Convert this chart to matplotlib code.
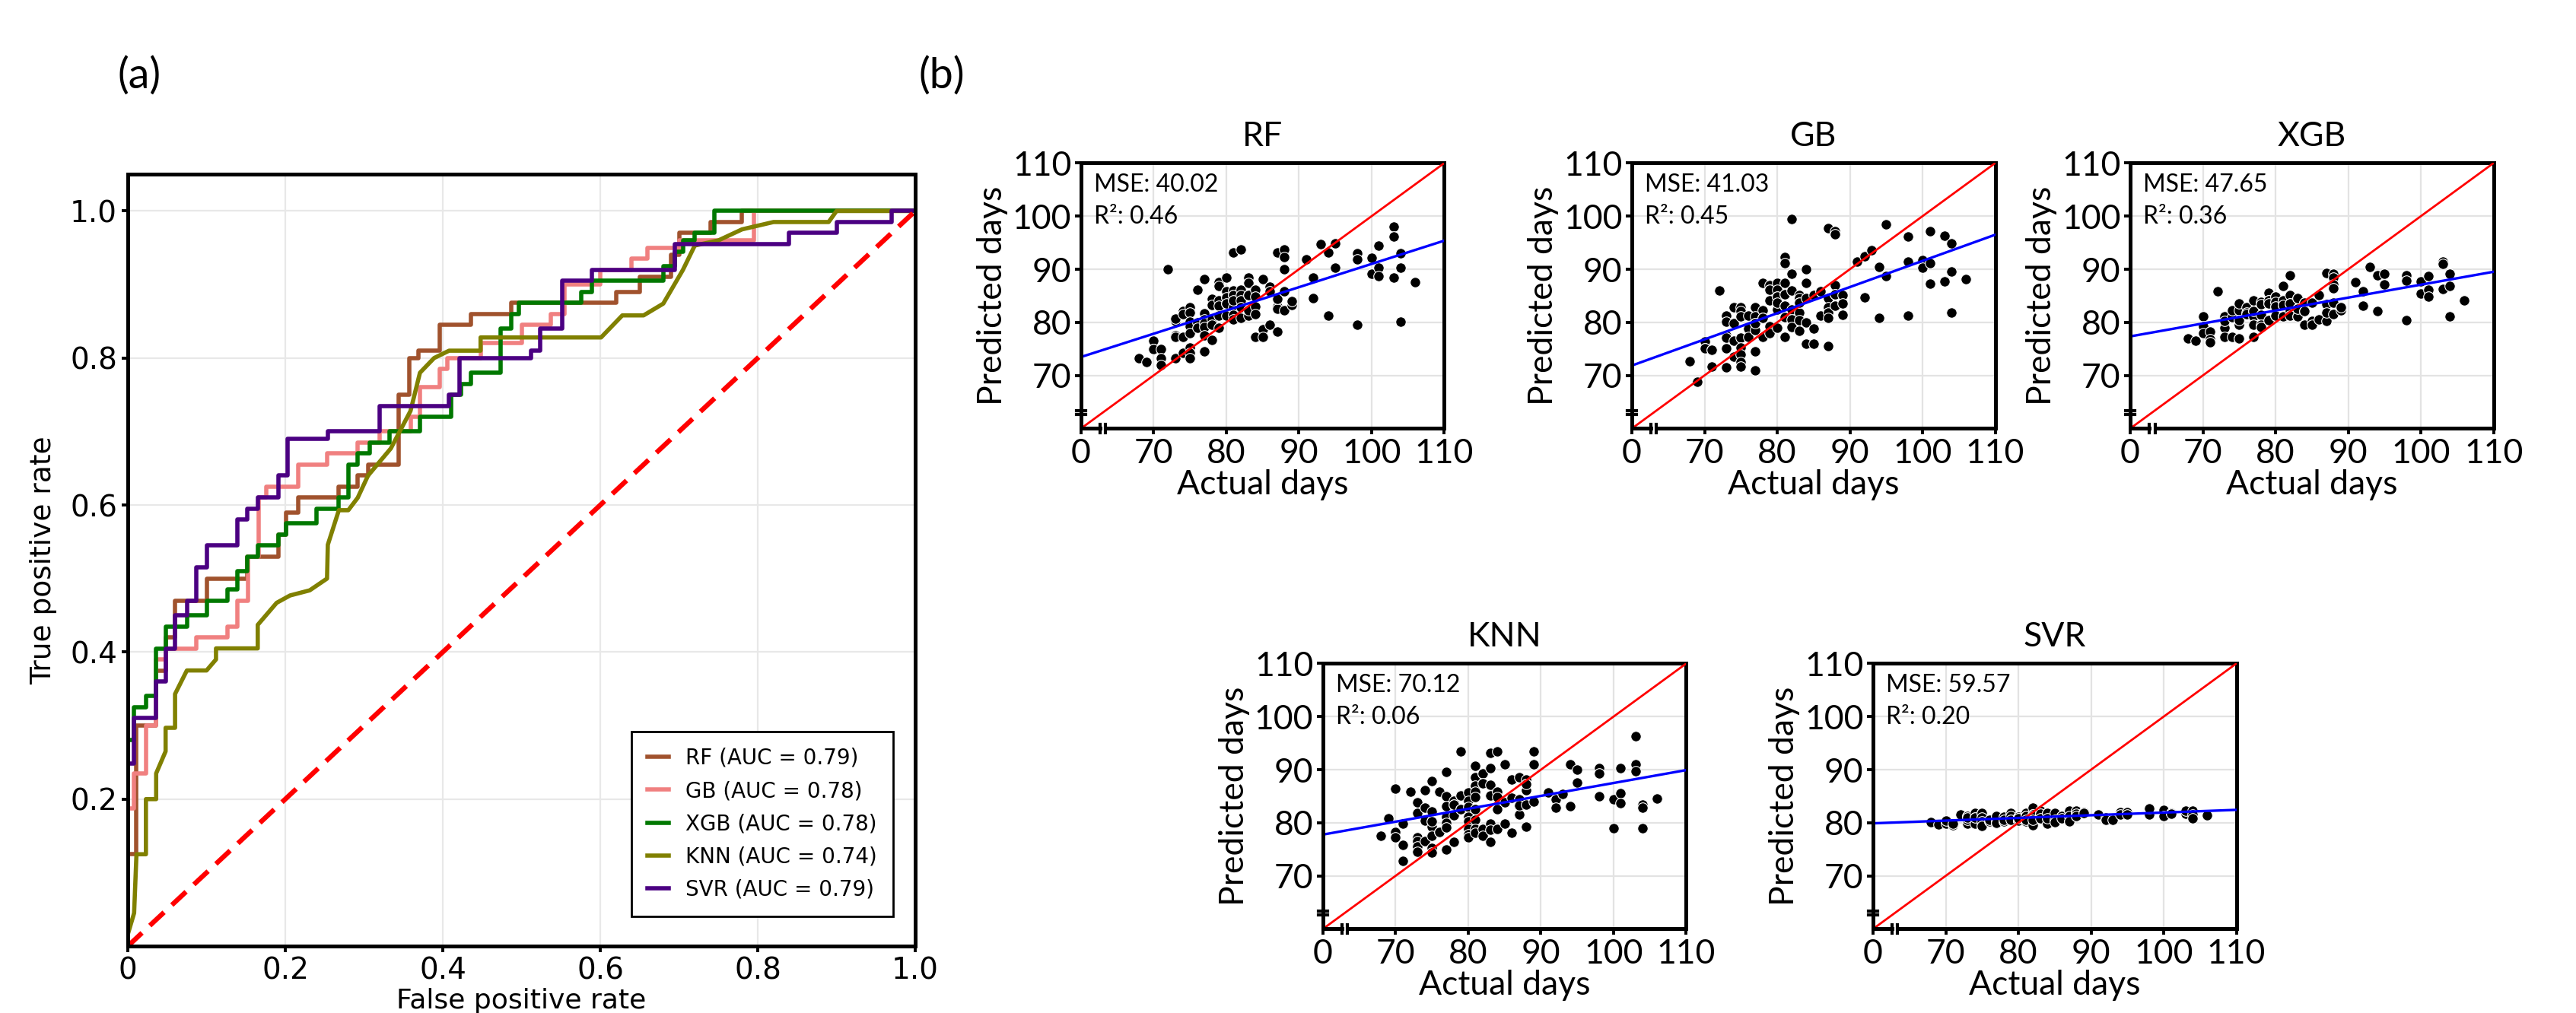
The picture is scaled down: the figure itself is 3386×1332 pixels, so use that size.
import numpy as np
import matplotlib
matplotlib.use('Agg')
import matplotlib.pyplot as plt

# ---------- (a) ROC curves ----------
roc_names = ['RF', 'GB', 'XGB', 'KNN', 'SVR']
roc_auc = [0.79, 0.78, 0.78, 0.74, 0.79]
roc_colors = ['#a0522d', '#f08080', '#007800', '#808000', '#4b0082']

rf_fpr = [0, 0, 0.011, 0.036, 0.048, 0.06, 0.10, 0.152, 0.166, 0.191, 0.201, 0.216, 0.268, 0.292,
          0.305, 0.344, 0.357, 0.369, 0.396, 0.436, 0.487, 0.62, 0.65, 0.69, 0.70, 0.74, 0.78, 1.0]
rf_tpr = [0, 0.125, 0.30, 0.375, 0.42, 0.47, 0.50, 0.53, 0.53, 0.56, 0.59, 0.61, 0.625, 0.64,
          0.655, 0.75, 0.80, 0.81, 0.845, 0.86, 0.875, 0.89, 0.91, 0.94, 0.97, 0.985, 1.0, 1.0]

gb_fpr = [0, 0, 0.008, 0.023, 0.036, 0.048, 0.087, 0.127, 0.139, 0.153, 0.166, 0.176, 0.201, 0.216,
          0.253, 0.292, 0.32, 0.359, 0.371, 0.396, 0.406, 0.448, 0.50, 0.537, 0.555, 0.60, 0.64,
          0.66, 0.70, 0.795, 1.0]
gb_tpr = [0, 0.187, 0.235, 0.30, 0.39, 0.405, 0.42, 0.435, 0.47, 0.53, 0.61, 0.625, 0.625, 0.655,
          0.67, 0.685, 0.70, 0.72, 0.76, 0.785, 0.80, 0.82, 0.845, 0.86, 0.90, 0.92, 0.935,
          0.95, 0.96, 1.0, 1.0]

xgb_fpr = [0, 0, 0.008, 0.023, 0.036, 0.048, 0.075, 0.10, 0.127, 0.139, 0.152, 0.165, 0.191, 0.201,
           0.24, 0.268, 0.28, 0.292, 0.307, 0.332, 0.371, 0.411, 0.423, 0.436, 0.473, 0.487, 0.497,
           0.576, 0.589, 0.68, 0.695, 0.705, 0.72, 0.745, 1.0]
xgb_tpr = [0, 0.28, 0.325, 0.34, 0.405, 0.435, 0.45, 0.47, 0.485, 0.51, 0.53, 0.545, 0.56, 0.575,
           0.595, 0.61, 0.655, 0.67, 0.685, 0.70, 0.72, 0.75, 0.765, 0.78, 0.84, 0.86, 0.875,
           0.89, 0.905, 0.925, 0.945, 0.96, 0.97, 1.0, 1.0]

knn_fpr = [0, 0.008, 0.011, 0.023, 0.023, 0.036, 0.036, 0.048, 0.048, 0.06, 0.06, 0.075, 0.10, 0.112,
           0.112, 0.165, 0.165, 0.189, 0.206, 0.231, 0.253, 0.254, 0.268, 0.28, 0.292, 0.305, 0.334,
           0.359, 0.371, 0.389, 0.408, 0.448, 0.448, 0.601, 0.628, 0.655, 0.68, 0.705, 0.72, 0.75,
           0.78, 0.82, 0.89, 0.90, 1.0]
knn_tpr = [0.016, 0.045, 0.125, 0.125, 0.20, 0.20, 0.235, 0.265, 0.297, 0.297, 0.343, 0.375, 0.375, 0.39,
           0.405, 0.405, 0.437, 0.467, 0.477, 0.484, 0.50, 0.546, 0.593, 0.593, 0.61, 0.64, 0.677,
           0.728, 0.78, 0.80, 0.81, 0.81, 0.828, 0.828, 0.858, 0.858, 0.874, 0.92, 0.953, 0.96,
           0.975, 0.985, 0.985, 1.0, 1.0]

svr_fpr = [0, 0, 0.008, 0.036, 0.048, 0.06, 0.075, 0.087, 0.10, 0.139, 0.152, 0.165, 0.191, 0.203,
           0.254, 0.32, 0.408, 0.421, 0.512, 0.524, 0.552, 0.589, 0.695, 0.84, 0.90, 0.97, 1.0]
svr_tpr = [0, 0.248, 0.31, 0.36, 0.405, 0.45, 0.47, 0.515, 0.545, 0.58, 0.595, 0.61, 0.64, 0.69,
           0.70, 0.735, 0.75, 0.80, 0.81, 0.84, 0.905, 0.92, 0.955, 0.97, 0.985, 1.0, 1.0]

# ---------- (b) predicted vs actual ----------
reg_names = ['RF', 'GB', 'XGB', 'KNN', 'SVR']
reg_mse = [40.02, 41.03, 47.65, 70.12, 59.57]
reg_r2 = [0.46, 0.45, 0.36, 0.06, 0.20]

actual_days = [68, 69, 70, 70, 70, 71, 71, 71, 72,
               73, 73, 73, 73, 73, 73, 74, 74, 74, 74,
               75, 75, 75, 75, 75, 75, 75, 75, 76, 76, 76,
               77, 77, 77, 77, 77, 77, 77, 78, 78, 78, 78, 78,
               79, 79, 79, 79, 79, 79, 80, 80, 80, 80, 80, 80, 80, 80,
               81, 81, 81, 81, 81, 81, 81, 81, 81, 82, 82, 82, 82, 82, 82,
               83, 83, 83, 83, 83, 83, 83, 84, 84, 84, 84, 84,
               85, 85, 85, 86, 86, 86, 87, 87, 87, 87, 87, 87,
               88, 88, 88, 88, 88, 88, 89, 89, 89, 91, 92, 92, 93, 94, 94, 95, 95,
               98, 98, 98, 100, 100, 101, 101, 101, 103, 103, 103, 104, 104, 104, 106]

rf_pred = [73.3, 72.5, 76.6, 75.0, 75.0, 75.0, 73.2, 72.0, 90.0,
           80.7, 80.3, 77.6, 77.3, 73.2, 80.7, 82.1, 81.5, 77.3, 74.3,
           82.9, 81.9, 80.1, 79.3, 77.9, 75.2, 74.3, 73.2, 86.1, 80.0, 79.0,
           88.2, 81.7, 80.6, 79.9, 79.1, 77.6, 74.6, 84.4, 83.3, 80.6, 79.6, 76.7,
           87.5, 86.8, 84.2, 83.2, 81.2, 79.0, 88.5, 85.9, 84.7, 83.6, 81.2, 85.9, 84.7, 83.6,
           93.1, 86.0, 85.2, 84.2, 82.9, 81.4, 80.5, 85.2, 84.2, 93.7, 86.2, 85.2, 84.1, 82.8, 80.8,
           88.5, 87.4, 85.2, 82.2, 81.2, 82.2, 85.2, 86.2, 84.9, 83.0, 81.5, 77.3,
           88.1, 78.7, 77.3, 86.7, 85.9, 79.5, 93.2, 84.4, 83.0, 82.6, 78.3, 84.4,
           93.8, 92.3, 90.0, 85.8, 82.2, 85.8, 84.0, 83.3, 84.0, 91.8, 88.5, 84.5, 94.7, 93.1, 81.3, 94.9, 90.3,
           93.0, 91.9, 79.5, 92.2, 89.1, 94.4, 90.3, 88.7, 98.0, 96.1, 88.5, 93.0, 90.3, 80.1, 87.5]

gb_pred = [72.6, 68.8, 76.4, 75.1, 75.1, 74.8, 71.6, 74.8, 86.0,
           81.3, 80.1, 77.6, 77.1, 75.1, 71.5, 82.8, 79.9, 76.6, 73.5,
           82.8, 82.1, 81.1, 77.1, 75.3, 74.0, 72.5, 71.6, 81.3, 78.9, 77.3,
           82.9, 81.1, 79.8, 78.5, 74.6, 71.0, 79.8, 87.4, 82.2, 80.8, 77.2, 80.8,
           87.0, 86.1, 84.2, 79.2, 78.0, 86.1, 87.4, 86.1, 84.9, 83.7, 82.4, 79.0, 84.9, 83.7,
           92.3, 91.2, 87.4, 85.3, 83.2, 81.0, 77.2, 85.3, 83.2, 99.5, 89.1, 86.0, 82.4, 80.5, 79.1,
           85.2, 84.6, 83.7, 81.9, 80.4, 78.4, 83.7, 90.0, 87.4, 84.6, 80.0, 76.0,
           85.1, 78.9, 76.0, 85.8, 81.3, 85.8, 97.8, 84.6, 82.8, 81.8, 80.9, 75.6,
           97.1, 96.6, 87.0, 85.3, 83.1, 85.3, 85.1, 83.5, 81.4, 91.5, 92.4, 84.7, 93.6, 90.4, 80.8, 98.4, 88.7,
           96.1, 91.5, 81.3, 91.7, 90.3, 97.1, 91.1, 87.3, 96.3, 87.7, 96.3, 94.9, 89.6, 81.8, 88.2]

xgb_pred = [77.0, 76.6, 81.1, 79.2, 77.9, 78.2, 76.8, 76.3, 85.8,
            81.1, 80.2, 79.0, 77.3, 81.1, 80.2, 82.3, 81.0, 77.3, 82.3,
            83.5, 82.3, 80.4, 79.5, 77.0, 83.5, 80.4, 77.0, 82.8, 81.9, 81.6,
            84.2, 82.1, 81.1, 79.5, 77.3, 82.1, 79.5, 83.9, 83.4, 81.4, 79.6, 79.1,
            85.5, 84.2, 83.5, 80.4, 84.2, 83.5, 84.8, 83.9, 83.0, 81.2, 84.8, 83.9, 83.0, 81.2,
            86.8, 84.1, 83.3, 81.1, 84.1, 83.3, 81.1, 84.1, 83.3, 88.8, 85.2, 83.5, 82.1, 81.2, 83.5,
            84.5, 82.5, 81.1, 84.5, 82.5, 81.1, 82.5, 83.7, 82.1, 79.6, 83.7, 82.1,
            83.7, 80.2, 79.6, 85.2, 80.5, 85.2, 89.3, 83.4, 81.9, 80.2, 83.4, 81.9,
            89.2, 88.4, 87.1, 86.4, 83.7, 81.5, 82.9, 82.2, 82.9, 87.6, 85.8, 83.2, 90.4, 88.9, 82.1, 89.1, 87.2,
            88.8, 87.8, 80.4, 87.7, 85.4, 88.7, 86.1, 84.9, 91.5, 91.0, 86.3, 89.2, 86.8, 81.1, 84.1]

knn_pred = [77.6, 80.8, 86.4, 78.2, 77.2, 79.8, 75.8, 72.8, 85.8,
            83.8, 81.8, 77.3, 76.5, 75.6, 74.6, 86.2, 82.8, 80.4, 76.6,
            87.8, 82.1, 80.2, 79.3, 77.6, 75.2, 74.4, 80.2, 85.8, 78.2, 78.2,
            89.6, 85.0, 83.2, 81.1, 80.0, 79.1, 74.9, 84.2, 83.4, 81.4, 76.4, 83.4,
            93.5, 85.1, 82.5, 85.1, 82.5, 85.1, 85.7, 84.2, 83.0, 81.1, 80.2, 78.8, 77.9, 77.2,
            90.7, 88.6, 87.0, 85.9, 84.9, 82.5, 80.5, 78.9, 78.1, 89.3, 87.4, 78.8, 77.6, 89.3, 87.4,
            93.2, 90.3, 87.1, 85.1, 79.8, 78.7, 76.4, 93.5, 85.9, 84.8, 82.5, 78.9,
            91.0, 83.8, 79.8, 88.1, 84.7, 78.1, 88.6, 84.4, 83.3, 81.6, 84.4, 83.3,
            88.1, 87.3, 86.2, 83.4, 79.2, 87.3, 93.5, 91.0, 84.0, 85.7, 84.4, 82.9, 85.4, 91.0, 83.2, 90.0, 87.6,
            90.3, 89.3, 85.0, 84.4, 79.0, 90.3, 85.5, 83.7, 96.3, 91.0, 89.7, 83.4, 82.8, 79.0, 84.5]

svr_pred = [80.1, 79.7, 80.4, 79.8, 80.4, 79.5, 79.5, 79.8, 81.6,
            81.2, 79.8, 81.2, 79.8, 80.5, 81.0, 81.9, 81.0, 79.8, 81.0,
            81.9, 81.0, 80.2, 79.4, 81.9, 81.0, 80.2, 79.4, 80.2, 80.2, 80.5,
            81.2, 80.0, 81.2, 80.0, 80.6, 81.2, 80.0, 81.1, 80.2, 81.1, 80.2, 80.6,
            81.8, 80.8, 81.8, 80.8, 81.2, 80.5, 81.1, 80.4, 81.1, 80.4, 81.1, 80.4, 80.8, 80.8,
            81.8, 80.8, 80.2, 81.8, 80.8, 80.2, 81.3, 81.3, 80.5, 82.8, 81.6, 79.6, 81.6, 81.2, 80.6,
            82.3, 81.2, 82.3, 81.2, 81.7, 81.7, 80.8, 81.8, 80.8, 79.9, 81.8, 80.8,
            81.8, 80.6, 80.1, 81.3, 81.3, 80.9, 82.3, 81.2, 80.3, 82.3, 81.2, 80.3,
            82.3, 81.7, 81.3, 82.3, 81.7, 81.3, 82.0, 82.0, 81.8, 81.6, 81.0, 80.6, 80.5, 82.0, 81.6, 82.0, 81.6,
            82.7, 81.5, 82.7, 82.4, 81.3, 81.9, 81.9, 81.7, 82.2, 81.7, 82.2, 82.3, 81.5, 80.8, 81.4]

narrow = ['Lato']

fig = plt.figure(figsize=(16.935, 6.66), dpi=200)

# ---- ROC panel ----
ax0 = fig.add_axes([0.0496, 0.066, 0.3056, 0.762])
ax0.grid(color='#e8e8e8', lw=0.8)
ax0.set_axisbelow(True)
roc_x = [rf_fpr, gb_fpr, xgb_fpr, knn_fpr, svr_fpr]
roc_y = [rf_tpr, gb_tpr, xgb_tpr, knn_tpr, svr_tpr]
for name, a, c, fx, fy in zip(roc_names, roc_auc, roc_colors, roc_x, roc_y):
    lab = f'{name} (AUC = {a:.2f})'
    if name == 'KNN':
        ax0.plot(fx, fy, color=c, lw=2.0, label=lab)
    else:
        ax0.step(fx, fy, where='post', color=c, lw=2.0, label=lab)
ax0.plot([0, 1], [0, 1], color='red', lw=2.3, dashes=(4, 2.2))
ax0.set_xlim(0, 1)
ax0.set_ylim(0, 1.05)
ax0.set_xticks([0, 0.2, 0.4, 0.6, 0.8, 1.0])
ax0.set_xticklabels(['0', '0.2', '0.4', '0.6', '0.8', '1.0'])
ax0.set_yticks([0.2, 0.4, 0.6, 0.8, 1.0])
ax0.set_yticklabels(['0.2', '0.4', '0.6', '0.8', '1.0'])
ax0.tick_params(direction='out', length=3, width=1.4, labelsize=14, pad=2)
ax0.set_xlabel('False positive rate', fontsize=13, labelpad=1)
ax0.set_ylabel('True positive rate', fontsize=13.5, labelpad=6)
for sp in ax0.spines.values():
    sp.set_linewidth(1.8)
leg = ax0.legend(loc='lower right', fontsize=10, fancybox=False, edgecolor='black',
                 framealpha=1, handlelength=1.0, borderpad=0.75, labelspacing=0.55,
                 bbox_to_anchor=(0.985, 0.025))
leg.get_frame().set_linewidth(1.0)

# ---- scatter panels ----
positions = {
    'RF': [0.4195, 0.577, 0.141, 0.262],
    'GB': [0.6333, 0.577, 0.141, 0.262],
    'XGB': [0.8267, 0.577, 0.141, 0.262],
    'KNN': [0.5134, 0.083, 0.141, 0.262],
    'SVR': [0.7269, 0.083, 0.141, 0.262],
}
preds = [rf_pred, gb_pred, xgb_pred, knn_pred, svr_pred]

for name, pred, m, r in zip(reg_names, preds, reg_mse, reg_r2):
    ax = fig.add_axes(positions[name])
    ax.set_xlim(60, 110)
    ax.set_ylim(60, 110)
    ax.grid(color='#e3e3e3', lw=0.8)
    ax.set_axisbelow(True)
    ax.scatter(actual_days, pred, s=24, c='black', edgecolors='white', linewidths=0.4, zorder=3)
    ax.plot([60, 110], [60, 110], color='red', lw=1.0, zorder=4)
    k, b = np.polyfit(actual_days, pred, 1)
    xs = np.array([60, 110])
    ax.plot(xs, k * xs + b, color='blue', lw=1.2, zorder=4)

    ax.set_xticks([60, 70, 80, 90, 100, 110])
    ax.set_xticklabels(['0', '70', '80', '90', '100', '110'])
    ax.set_yticks([70, 80, 90, 100, 110])
    ax.set_yticklabels(['70', '80', '90', '100', '110'])
    ax.tick_params(direction='out', length=3, width=1.4, labelsize=16, pad=1.5)
    for lbl in ax.get_xticklabels() + ax.get_yticklabels():
        lbl.set_family(narrow)
    ax.set_xlabel('Actual days', fontsize=16, family=narrow, labelpad=0)
    ax.set_ylabel('Predicted days', fontsize=16, family=narrow, labelpad=2)
    ax.set_title(name, fontsize=16, family=narrow, pad=8)
    ax.text(0.035, 0.96, f'MSE: {m:.2f}\nR²: {r:.2f}', transform=ax.transAxes,
            ha='left', va='top', fontsize=11.5, family=narrow, linespacing=1.5)

    # spines with axis breaks
    ax.spines['left'].set_visible(False)
    ax.spines['bottom'].set_visible(False)
    ax.spines['top'].set_linewidth(1.8)
    ax.spines['right'].set_linewidth(1.8)
    kw = dict(color='black', lw=1.8, clip_on=False, zorder=5, solid_capstyle='projecting')
    ax.plot([60, 60], [60, 62.7], **kw)
    ax.plot([60, 60], [63.4, 110], **kw)
    ax.plot([60, 62.6], [60, 60], **kw)
    ax.plot([63.4, 110], [60, 60], **kw)
    mk = dict(color='black', lw=1.5, clip_on=False, zorder=5)
    for yb in (62.7, 63.4):
        ax.plot([59.4, 60.6], [yb, yb], **mk)
    for xb in (62.6, 63.4):
        ax.plot([xb, xb], [59.2, 60.8], **mk)

fig.text(0.054, 0.925, '(a)', fontsize=20, family=narrow, ha='center', va='center')
fig.text(0.3655, 0.925, '(b)', fontsize=20, family=narrow, ha='center', va='center')

fig.savefig('out.png', dpi=200)
